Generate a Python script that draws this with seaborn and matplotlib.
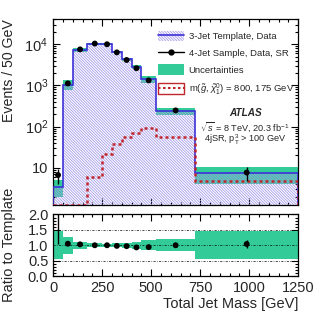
import numpy as np
import matplotlib
matplotlib.use("Agg")
import matplotlib.pyplot as plt
import seaborn as sns
from matplotlib.patches import Patch
from matplotlib.lines import Line2D
from matplotlib.ticker import MultipleLocator, FuncFormatter, LogLocator, NullFormatter

# Histogram data
bin_edges = [0, 50, 100, 175, 250, 300, 350, 400, 450, 525, 725, 1250]
template = [3.5, 1050, 7300, 10300, 10000, 6500, 4300, 2800, 1420, 243, 7.4]
data = [6.7, 1120, 7500, 10400, 10000, 6350, 4150, 2620, 1330, 248, 7.7]
data_err = [2.6, 33, 87, 102, 100, 80, 64, 51, 36, 16, 2.8]
signal = [0, 0, 0, 5.9, 21.7, 38, 57, 72, 94, 55, 4.8]
rel_unc = [0.45, 0.28, 0.11, 0.07, 0.05, 0.06, 0.08, 0.12, 0.17, 0.2, 0.45]
ratio = [2.25, 1.05, 1.03, 1.0, 1.0, 0.98, 0.97, 0.93, 0.94, 1.0, 1.04]
ratio_err = [1.2, 0.03, 0.015, 0.01, 0.01, 0.013, 0.016, 0.02, 0.03, 0.07, 0.12]

edges = np.array(bin_edges, dtype=float)
centers = 0.5 * (edges[1:] + edges[:-1])
template = np.array(template)
rel_unc = np.array(rel_unc)

sns.set_style("ticks")
plt.rcParams["font.family"] = ["Liberation Sans", "DejaVu Sans"]
plt.rcParams["mathtext.fontset"] = "custom"
plt.rcParams["mathtext.rm"] = "Liberation Sans"
plt.rcParams["mathtext.it"] = "Liberation Sans:italic"
plt.rcParams["mathtext.bf"] = "Liberation Sans:bold"
plt.rcParams["hatch.linewidth"] = 0.6

green = "#33cc99"
blue = "#3c30d8"
hatch_col = "#a59ceb"
red = "#c0272d"
hatch = "\\" * 12
ymin, ymax = 1.25, 4e4

fig = plt.figure(figsize=(3.32, 3.24), dpi=100)
ax = fig.add_axes([0.16, 0.367, 0.738, 0.573])
rax = fig.add_axes([0.16, 0.148, 0.738, 0.192])

# main panel
ax.stairs(template * (1 + rel_unc), edges, baseline=template * (1 - rel_unc),
          fill=True, color=green, lw=0, zorder=1)
ax.stairs(template, edges, baseline=1e-3, fill=True, facecolor="none",
          edgecolor=hatch_col, hatch=hatch, lw=0, zorder=2)
ax.stairs(template, edges, baseline=1e-3, color=blue, lw=1.2, zorder=3)
ax.stairs(np.maximum(signal, ymin), edges, color=red, ls=(0, (1.2, 1.2)), lw=1.8, zorder=4)
ax.errorbar(centers, data, yerr=data_err, fmt="none", ecolor="k", lw=1, zorder=5)
sns.scatterplot(x=centers, y=data, color="k", s=18, edgecolor="none", ax=ax, zorder=6)

ax.set_yscale("log")
ax.set_xlim(0, 1250)
ax.set_ylim(ymin, ymax)
ax.yaxis.set_major_locator(LogLocator(base=10, numticks=10))
ax.yaxis.set_minor_locator(LogLocator(base=10, subs=np.arange(2, 10), numticks=20))
ax.yaxis.set_minor_formatter(NullFormatter())
ax.yaxis.set_major_formatter(FuncFormatter(
    lambda v, p: "10" if abs(v - 10) < 1e-6 else r"$10^{%d}$" % round(np.log10(v))))
ax.xaxis.set_major_locator(MultipleLocator(250))
ax.xaxis.set_minor_locator(MultipleLocator(50))
ax.tick_params(labelbottom=False)
ax.set_ylabel("Events / 50 GeV", fontsize=10.2, loc="top")
ax.yaxis.set_label_coords(-0.15, 1.0)

# legend
h_tmpl = (Patch(facecolor="none", edgecolor=hatch_col, hatch=hatch, lw=0),
          Line2D([], [], color=blue, lw=1.2))
h_data = Line2D([], [], color="k", marker="o", markersize=3.5, lw=1)
h_unc = Patch(facecolor=green, edgecolor="none")
h_sig = (Patch(facecolor="white", edgecolor=red, lw=1),
         Line2D([], [], color=red, ls=(0, (1.2, 1.2)), lw=1.5))
ax.legend([h_tmpl, h_data, h_unc, h_sig],
          ["3-Jet Template, Data", "4-Jet Sample, Data, SR", "Uncertainties",
           r"m($\tilde{g}$, $\tilde{\chi}_1^0$) = 800, 175 GeV"],
          loc="upper left", bbox_to_anchor=(158 / 332, 1 - 31 / 324),
          bbox_transform=fig.transFigure, frameon=False, fontsize=6.8,
          handlelength=2.8, handleheight=1.3, labelspacing=0.68,
          handletextpad=0.45, borderpad=0, borderaxespad=0)

ax.text(0.784, 0.495, "ATLAS", transform=ax.transAxes, ha="center", va="center",
        fontsize=7.2, fontweight="bold", fontstyle="italic")
ax.text(0.784, 0.422, r"$\sqrt{s}$ = 8 TeV, 20.3 fb$^{-1}$", transform=ax.transAxes,
        ha="center", va="center", fontsize=6.6)
ax.text(0.784, 0.352, r"4jSR, p$_{\mathrm{T}}^{3}$ > 100 GeV", transform=ax.transAxes,
        ha="center", va="center", fontsize=6.6)

# ratio panel
rax.stairs(1 + rel_unc, edges, baseline=1 - rel_unc, fill=True, color=green, lw=0, zorder=1)
for yv in [0.5, 1.0, 1.5]:
    rax.axhline(yv, color="k", lw=0.5, ls=(0, (3, 2, 1, 2)), zorder=2)
rax.errorbar(centers, ratio, yerr=ratio_err, fmt="none", ecolor="k", lw=1, zorder=5)
sns.scatterplot(x=centers, y=ratio, color="k", s=18, edgecolor="none", ax=rax, zorder=6)
rax.set_xlim(0, 1250)
rax.set_ylim(0, 2.02)
rax.yaxis.set_major_locator(MultipleLocator(0.5))
rax.yaxis.set_minor_locator(MultipleLocator(0.1))
rax.yaxis.set_major_formatter(FuncFormatter(lambda v, p: "%.1f" % v))
rax.xaxis.set_major_locator(MultipleLocator(250))
rax.xaxis.set_minor_locator(MultipleLocator(50))
rax.set_xlabel("Total Jet Mass [GeV]", fontsize=10.5, loc="right")
rax.xaxis.set_label_coords(1.0, -0.33)
rax.set_ylabel("Ratio to Template", fontsize=10.5)
rax.yaxis.set_label_coords(-0.15, 0.5)

for a in (ax, rax):
    a.tick_params(which="both", direction="in", top=True, right=True, labelsize=10.5,
                  width=0.8, color="k")
    a.tick_params(which="major", length=5)
    a.tick_params(which="minor", length=2.5)
    for s in a.spines.values():
        s.set_linewidth(0.9)
        s.set_color("k")

fig.savefig("out.png", dpi=100)
